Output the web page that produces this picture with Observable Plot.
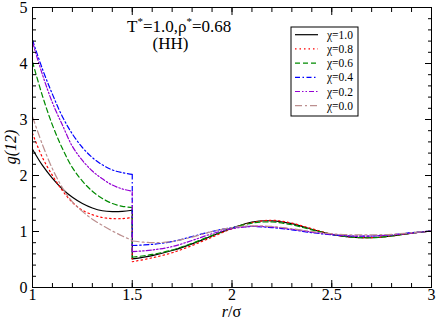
<!DOCTYPE html>
<html>
<head>
<meta charset="utf-8">
<script src="https://cdn.jsdelivr.net/npm/d3@7"></script>
<script src="https://cdn.jsdelivr.net/npm/@observablehq/plot@0.6"></script>
<style>
  html, body { margin: 0; padding: 0; background: white; }
  #chart { width: 436px; height: 319px; }
  #chart svg, #chart svg text, #chart svg tspan { font-family: "Liberation Serif", "DejaVu Serif", serif; }
</style>
</head>
<body>
<div id="chart"></div>
<script>
// ---- data ----
const seriesNames = ["χ=1.0", "χ=0.8", "χ=0.6", "χ=0.4", "χ=0.2", "χ=0.0"];
const rLeft  = [1.0, 1.05, 1.1, 1.15, 1.2, 1.25, 1.3, 1.35, 1.4, 1.45, 1.5];
const rRight = [1.5, 1.6, 1.7, 1.8, 1.9, 2.0, 2.1, 2.2, 2.3, 2.4, 2.5, 2.6, 2.7, 2.8, 2.9, 3.0];

const chi10Left  = [2.47, 2.18, 1.95, 1.76, 1.61, 1.50, 1.42, 1.37, 1.355, 1.36, 1.38];
const chi08Left  = [2.75, 2.32, 2.00, 1.73, 1.52, 1.38, 1.30, 1.25, 1.23, 1.23, 1.25];
const chi06Left  = [4.03, 3.42, 2.90, 2.48, 2.14, 1.90, 1.72, 1.59, 1.50, 1.45, 1.43];
const chi04Left  = [4.42, 3.90, 3.45, 3.05, 2.74, 2.50, 2.32, 2.19, 2.10, 2.05, 2.02];
const chi02Left  = [4.38, 3.80, 3.30, 2.90, 2.52, 2.27, 2.08, 1.94, 1.83, 1.76, 1.72];
const chi00Left  = [3.05, 2.55, 2.12, 1.78, 1.53, 1.36, 1.22, 1.11, 1.01, 0.92, 0.84];

const chi10Right = [0.51, 0.57, 0.66, 0.78, 0.92, 1.06, 1.17, 1.19, 1.14, 1.04, 0.95, 0.90, 0.89, 0.92, 0.97, 1.01];
const chi08Right = [0.46, 0.53, 0.62, 0.75, 0.90, 1.05, 1.16, 1.20, 1.15, 1.05, 0.95, 0.90, 0.89, 0.92, 0.97, 1.01];
const chi06Right = [0.54, 0.59, 0.67, 0.79, 0.93, 1.06, 1.15, 1.17, 1.12, 1.03, 0.95, 0.90, 0.89, 0.92, 0.97, 1.01];
const chi04Right = [0.75, 0.77, 0.82, 0.91, 1.00, 1.07, 1.09, 1.07, 1.03, 0.98, 0.94, 0.92, 0.92, 0.94, 0.98, 1.01];
const chi02Right = [0.64, 0.67, 0.73, 0.84, 0.96, 1.05, 1.09, 1.08, 1.04, 0.99, 0.95, 0.92, 0.92, 0.94, 0.97, 1.01];
const chi00Right = [0.83, 0.80, 0.82, 0.90, 1.00, 1.07, 1.10, 1.09, 1.05, 1.00, 0.96, 0.94, 0.94, 0.95, 0.98, 1.01];

const xTickLabels = [1, 1.5, 2, 2.5, 3];
const yTickLabels = [0, 1, 2, 3, 4, 5];
const xMinorTicks = d3.range(0, 21).map(i => 1 + i / 10);
const yMinorTicks = d3.range(0, 26).map(i => i / 5);

// ---- styles ----
const colors = ["#000000", "#ff0000", "#008b00", "#0000ff", "#9400d3", "#bc8f8f"];
const dashes = ["none", "1.5,3", "5,3", "5,2.5,1.5,2.5", "5,2,1.5,2,1.5,2", "7,3,2,3"];
const lefts = [chi10Left, chi08Left, chi06Left, chi04Left, chi02Left, chi00Left];
const rights = [chi10Right, chi08Right, chi06Right, chi04Right, chi02Right, chi00Right];

const FONT = "Liberation Serif, DejaVu Serif, serif";

const lineMarks = [];
seriesNames.forEach((name, i) => {
  const L = rLeft.map((r, j) => ({r, g: lefts[i][j]}));
  const R = rRight.map((r, j) => ({r, g: rights[i][j]}));
  const style = {stroke: colors[i], strokeWidth: 1.2, strokeDasharray: dashes[i], curve: "catmull-rom"};
  lineMarks.push(Plot.line(L, {x: "r", y: "g", ...style}));
  lineMarks.push(Plot.line(R, {x: "r", y: "g", ...style}));
  lineMarks.push(Plot.link([{r: rLeft[rLeft.length - 1], a: L[L.length - 1].g, b: R[0].g}],
    {x1: "r", x2: "r", y1: "a", y2: "b", stroke: colors[i], strokeWidth: 1.2, strokeDasharray: dashes[i]}));
});

const plot = Plot.plot({
  width: 436,
  height: 319,
  marginLeft: 32,
  marginRight: 5,
  marginTop: 7,
  marginBottom: 32,
  x: {domain: [1, 3]},
  y: {domain: [0, 5]},
  style: {fontFamily: FONT, fontSize: "16px", background: "white", color: "black", overflow: "visible"},
  marks: [
    ...lineMarks,
    // inward ticks, all four sides
    Plot.axisX(xTickLabels, {anchor: "bottom", tickSize: -7, tickFormat: () => "", label: null}),
    Plot.axisX(xMinorTicks, {anchor: "bottom", tickSize: -4, tickFormat: () => "", label: null}),
    Plot.axisX(xTickLabels, {anchor: "top", tickSize: -7, tickFormat: () => "", label: null}),
    Plot.axisX(xMinorTicks, {anchor: "top", tickSize: -4, tickFormat: () => "", label: null}),
    Plot.axisY(yTickLabels, {anchor: "left", tickSize: -7, tickFormat: () => "", label: null}),
    Plot.axisY(yMinorTicks, {anchor: "left", tickSize: -4, tickFormat: () => "", label: null}),
    Plot.axisY(yTickLabels, {anchor: "right", tickSize: -7, tickFormat: () => "", label: null}),
    Plot.axisY(yMinorTicks, {anchor: "right", tickSize: -4, tickFormat: () => "", label: null}),
    // labels
    Plot.axisX(xTickLabels, {anchor: "bottom", tickSize: 0, tickPadding: 1, tickFormat: d => String(d), label: null, fontSize: 16}),
    Plot.axisY(yTickLabels, {anchor: "left", tickSize: 0, tickPadding: 5, tickFormat: d => String(d), label: null, fontSize: 16}),
    Plot.frame({stroke: "black", strokeWidth: 1})
  ]
});

document.getElementById("chart").appendChild(plot);

// ---- annotations (title, axis titles, legend) ----
const svg = d3.select(plot);
const xs = plot.scale("x").range;
const ys = plot.scale("y").range;
const cx = (xs[0] + xs[1]) / 2;
const cy = (ys[0] + ys[1]) / 2;

// x label
const xl = svg.append("text").attr("x", cx).attr("y", 317).attr("text-anchor", "middle")
  .attr("font-size", 16).attr("fill", "black");
xl.append("tspan").attr("font-style", "italic").text("r");
xl.append("tspan").text("/σ");

// y label
svg.append("text").attr("transform", `translate(16,${cy}) rotate(-90)`).attr("text-anchor", "middle")
  .attr("font-size", 16).attr("font-style", "italic").attr("fill", "black")
  .text("g(12)");

// title
const t = svg.append("text").attr("x", 127).attr("y", 32).attr("text-anchor", "start")
  .attr("font-size", 17).attr("fill", "black");
t.append("tspan").text("T");
t.append("tspan").attr("font-size", 11).attr("dy", -7).text("*");
t.append("tspan").attr("dy", 7).text("=1.0,ρ");
t.append("tspan").attr("font-size", 11).attr("dy", -7).text("*");
t.append("tspan").attr("dy", 7).text("=0.68");
svg.append("text").attr("x", 170.5).attr("y", 49).attr("text-anchor", "middle")
  .attr("font-size", 17).attr("fill", "black").text("(HH)");

// legend
const lg = svg.append("g");
lg.append("rect").attr("x", 291).attr("y", 27).attr("width", 67).attr("height", 89)
  .attr("fill", "white").attr("stroke", "black").attr("stroke-width", 1);
seriesNames.forEach((name, i) => {
  const yy = 34.7 + i * 14.2;
  lg.append("line").attr("x1", 295).attr("x2", 318).attr("y1", yy).attr("y2", yy)
    .attr("stroke", colors[i]).attr("stroke-width", 1.2)
    .attr("stroke-dasharray", dashes[i] === "none" ? null : dashes[i]);
  lg.append("text").attr("x", 327).attr("y", yy).attr("dy", "0.35em").attr("text-anchor", "start")
    .attr("font-size", 11.5).attr("fill", "black").text(name);
});
</script>
</body>
</html>
